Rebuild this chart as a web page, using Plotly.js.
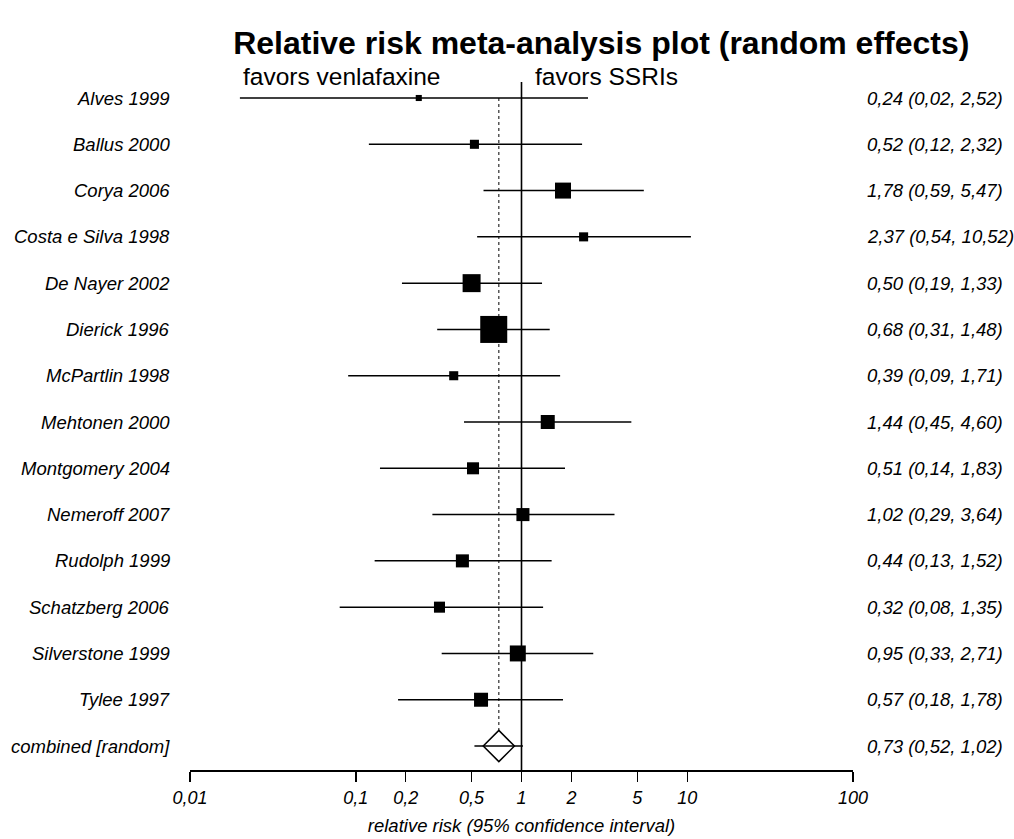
<!DOCTYPE html>
<html>
<head>
<meta charset="utf-8">
<script src="https://cdn.plot.ly/plotly-3.0.1.min.js"></script>
<style>html,body{margin:0;padding:0;background:#fff;}#chart{width:1014px;height:839px;}</style>
</head>
<body>
<div id="chart"></div>
<script>
// ---- data ----
const studies = ["Alves 1999","Ballus 2000","Corya 2006","Costa e Silva 1998","De Nayer 2002","Dierick 1996","McPartlin 1998","Mehtonen 2000","Montgomery 2004","Nemeroff 2007","Rudolph 1999","Schatzberg 2006","Silverstone 1999","Tylee 1997"];
const rr    = [0.24, 0.52, 1.78, 2.37, 0.50, 0.68, 0.39, 1.44, 0.51, 1.02, 0.44, 0.32, 0.95, 0.57];
const lower = [0.02, 0.12, 0.59, 0.54, 0.19, 0.31, 0.09, 0.45, 0.14, 0.29, 0.13, 0.08, 0.33, 0.18];
const upper = [2.52, 2.32, 5.47, 10.52, 1.33, 1.48, 1.71, 4.60, 1.83, 3.64, 1.52, 1.35, 2.71, 1.78];
// relative study weights (%), estimated from square areas
const weights = [1.3, 2.9, 9.0, 2.9, 11.4, 25.7, 2.9, 6.9, 5.1, 6.0, 6.0, 4.3, 9.0, 6.9];
const combinedLabel = "combined [random]";
const combined = {rr: 0.73, lower: 0.52, upper: 1.02};
const tickVals = [0.01, 0.1, 0.2, 0.5, 1, 2, 5, 10, 100];
const tickText = ["0,01", "0,1", "0,2", "0,5", "1", "2", "5", "10", "100"];

// ---- helpers ----
const fmt = v => v.toFixed(2).replace('.', ',');
const n = studies.length;
const rows = studies.map((_, i) => i);
const FONT = "Liberation Sans, Arial, Helvetica, sans-serif";
const sizeScale = 27 / Math.sqrt(Math.max(...weights));

const traces = [];
// vertical line of no effect
traces.push({x: [1, 1], y: [-0.346, 14.6], mode: 'lines', line: {color: 'black', width: 1.6}, hoverinfo: 'skip', showlegend: false});
// dotted line at pooled estimate
traces.push({x: [combined.rr, combined.rr], y: [0, n - 0.32], mode: 'lines', line: {color: 'black', width: 1, dash: 'dot'}, hoverinfo: 'skip', showlegend: false});
// studies
traces.push({
  x: rr, y: rows, type: 'scatter', mode: 'markers', showlegend: false,
  marker: {symbol: 'square', color: 'black', opacity: 1, size: weights.map(w => Math.sqrt(w) * sizeScale), line: {width: 0}},
  error_x: {type: 'data', symmetric: false,
    array: rr.map((v, i) => upper[i] - v), arrayminus: rr.map((v, i) => v - lower[i]),
    width: 0, thickness: 1.5, color: 'black'}
});
// combined
traces.push({
  x: [combined.rr], y: [n], type: 'scatter', mode: 'markers', showlegend: false,
  marker: {symbol: 'diamond-open', color: 'black', opacity: 1, size: 24, line: {width: 1.5, color: 'black'}},
  error_x: {type: 'data', symmetric: false, array: [combined.upper - combined.rr], arrayminus: [combined.rr - combined.lower],
    width: 0, thickness: 1.5, color: 'black'}
});

const annotations = [];
const allLabels = studies.concat([combinedLabel]);
const allText = rr.map((v, i) => `${fmt(v)} (${fmt(lower[i])}, ${fmt(upper[i])})`)
  .concat([`${fmt(combined.rr)} (${fmt(combined.lower)}, ${fmt(combined.upper)})`]);
allLabels.forEach((s, i) => {
  annotations.push({xref: 'paper', yref: 'y', x: -0.027, y: i, text: s, showarrow: false, xanchor: 'right', yanchor: 'middle',
    font: {family: FONT, size: 18.5, color: 'black', style: 'italic'}});
  annotations.push({xref: 'paper', yref: 'y', x: 1.0181, y: i, text: allText[i], showarrow: false, xanchor: 'left', yanchor: 'middle',
    font: {family: FONT, size: 18.5, color: 'black', style: 'italic'}});
});
annotations.push({xref: 'paper', yref: 'paper', x: 0.3801, y: 0.984, text: 'favors venlafaxine', showarrow: false, xanchor: 'right', yanchor: 'middle',
  font: {family: FONT, size: 24.5, color: 'black'}});
annotations.push({xref: 'paper', yref: 'paper', x: 0.5173, y: 0.984, text: 'favors SSRIs', showarrow: false, xanchor: 'left', yanchor: 'middle',
  font: {family: FONT, size: 24.5, color: 'black'}});

const layout = {
  width: 1014, height: 839,
  margin: {l: 190, r: 161, t: 65, b: 69},
  paper_bgcolor: 'white', plot_bgcolor: 'white',
  title: {text: '<b>Relative risk meta-analysis plot (random effects)</b>', x: 0.593, xanchor: 'center', y: 0.949, yanchor: 'middle',
    font: {family: FONT, size: 32, color: 'black'}},
  xaxis: {type: 'log', range: [-2, 2], tickvals: tickVals, ticktext: tickText,
    ticks: 'outside', ticklen: 10, tickwidth: 1.5, tickcolor: 'black',
    showline: true, linecolor: 'black', linewidth: 2, showgrid: false, zeroline: false,
    tickfont: {family: FONT, size: 18, color: 'black', style: 'italic'},
    title: {text: 'relative risk (95% confidence interval)', standoff: 12, font: {family: FONT, size: 18.5, color: 'black', style: 'italic'}}},
  yaxis: {range: [14.518, -0.713], showgrid: false, zeroline: false, showline: false, showticklabels: false, ticks: ''},
  annotations: annotations,
  showlegend: false
};

Plotly.newPlot('chart', traces, layout, {displayModeBar: false, staticPlot: true});
</script>
</body>
</html>
